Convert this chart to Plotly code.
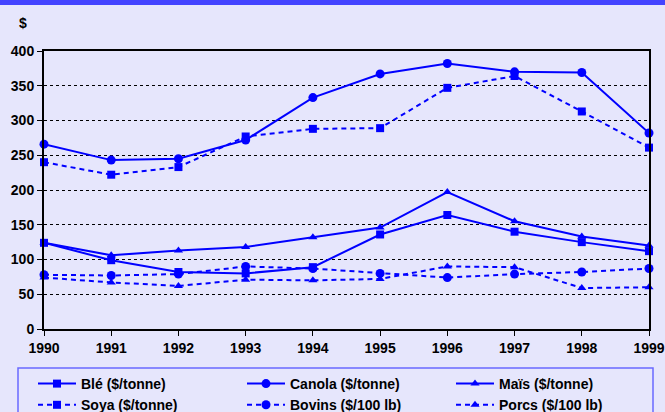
import plotly.graph_objects as go

years = [1990, 1991, 1992, 1993, 1994, 1995, 1996, 1997, 1998, 1999]
ble = [124, 99, 82, 80, 89, 136, 164, 140, 125, 112]
canola = [266, 243, 245, 272, 333, 367, 382, 370, 369, 282]
mais = [124, 106, 113, 118, 132, 146, 197, 155, 133, 120]
soya = [240, 222, 233, 277, 288, 289, 347, 364, 313, 261]
bovins = [78, 77, 79, 90, 87, 80, 74, 79, 82, 87]
porcs = [74, 67, 62, 71, 70, 72, 90, 89, 59, 60]

names = ["Blé ($/tonne)", "Canola ($/tonne)", "Maïs ($/tonne)",
         "Soya ($/tonne)", "Bovins ($/100 lb)", "Porcs ($/100 lb)"]
series = [ble, canola, mais, soya, bovins, porcs]
symbols = ["square", "circle", "triangle-up", "square", "circle", "triangle-up"]
dashes = ["solid", "solid", "solid", "5px,4px", "5px,4px", "5px,4px"]
sizes = [8, 9, 8, 8, 9, 8]

BLUE = "#0000FF"
BG = "#E6E6FC"
FONT = "Liberation Sans, Arial, sans-serif"

fig = go.Figure()
for name, vals, sym, dash, sz in zip(names, series, symbols, dashes, sizes):
    fig.add_trace(go.Scatter(
        x=years, y=vals, name=name, mode="lines+markers",
        line=dict(color=BLUE, width=2, dash=dash),
        marker=dict(symbol=sym, size=sz, color=BLUE),
        cliponaxis=False,
    ))

W, H = 665, 412
L, R, T, B = 44, 16, 51, 83
pw, ph = W - L - R, H - T - B

def px_x(px):
    return (px - L) / pw

def px_y(py):
    return (H - B - py) / ph

fig.update_layout(
    width=W, height=H,
    margin=dict(l=L, r=R, t=T, b=B, autoexpand=False),
    paper_bgcolor=BG, plot_bgcolor=BG,
    font=dict(family=FONT, size=14, color="black", weight="bold"),
    showlegend=True,
    legend=dict(
        orientation="h", x=px_x(33), y=px_y(368), xanchor="left", yanchor="top",
        entrywidth=156, entrywidthmode="pixels", bgcolor="rgba(0,0,0,0)",
        borderwidth=0, font=dict(size=14, family=FONT, weight="bold"),
        tracegroupgap=0, itemwidth=38,
    ),
    xaxis=dict(
        range=[1990, 1999], tickmode="array", tickvals=years,
        ticktext=[str(y) for y in years],
        showgrid=False, zeroline=False,
        showline=True, linecolor="black", linewidth=2, mirror=True,
        ticks="outside", ticklen=5, tickcolor="black", tickwidth=1,
        tickfont=dict(size=14, family=FONT, weight="bold"),
    ),
    yaxis=dict(
        range=[0, 400], tickmode="array", tickvals=list(range(0, 401, 50)),
        showgrid=True, gridcolor="black", griddash="dot", gridwidth=1,
        zeroline=False,
        showline=True, linecolor="black", linewidth=2, mirror=True,
        ticks="outside", ticklen=5, tickcolor="black", tickwidth=1,
        tickfont=dict(size=14, family=FONT, weight="bold"),
    ),
    shapes=[
        dict(type="rect", xref="paper", yref="paper",
             x0=px_x(-5), x1=px_x(W + 5), y0=px_y(5), y1=px_y(-5),
             fillcolor="#4444FF", line=dict(width=0), layer="above"),
        dict(type="rect", xref="paper", yref="paper",
             x0=px_x(18), x1=px_x(653), y0=px_y(420), y1=px_y(368),
             fillcolor="rgba(0,0,0,0)", line=dict(color="#6A6AFF", width=1.5)),
    ],
    annotations=[
        dict(text="$", xref="paper", yref="paper", x=px_x(23), y=px_y(23),
             xanchor="center", yanchor="middle", showarrow=False,
             font=dict(size=14, family=FONT, weight="bold")),
    ],
)

fig.write_html(
    "out.html",
    config={"displayModeBar": False},
    post_script="document.body.style.margin='0px';"
                "document.body.style.overflow='hidden';"
                "document.body.style.background='#E6E6FC';",
)
